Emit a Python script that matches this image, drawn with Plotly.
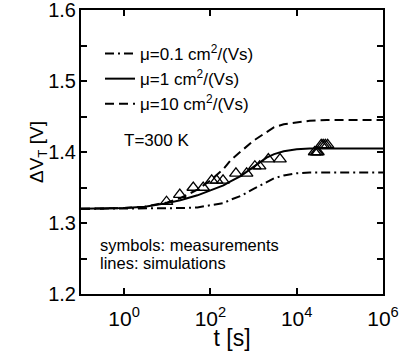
import plotly.graph_objects as go

# simulation time grid [s]
t_sim = [0.1, 0.3, 1, 3, 10, 20, 50, 100, 200, 300, 500, 1000, 2000, 3000, 5000,
         1e4, 2e4, 5e4, 1e5, 1e6]
v_mu01 = [1.320, 1.320, 1.320, 1.320, 1.320, 1.321, 1.322, 1.325, 1.328, 1.333, 1.338,
          1.348, 1.358, 1.363, 1.367, 1.370, 1.371, 1.371, 1.371, 1.371]
v_mu1 = [1.320, 1.320, 1.321, 1.323, 1.328, 1.332, 1.339, 1.346, 1.353, 1.359, 1.366,
         1.379, 1.392, 1.397, 1.401, 1.404, 1.405, 1.405, 1.405, 1.405]
v_mu10 = [1.320, 1.320, 1.321, 1.323, 1.329, 1.335, 1.347, 1.360, 1.376, 1.389, 1.400,
          1.416, 1.428, 1.435, 1.439, 1.442, 1.444, 1.445, 1.445, 1.445]

# measurements
t_meas = [9.6, 19.5, 40, 68, 107, 139, 196, 390, 690, 1070, 1380, 2200, 4100,
          26000, 29000, 31000, 37000, 41000, 46000, 52000]
v_meas = [1.33, 1.34, 1.35, 1.35, 1.36, 1.36, 1.36, 1.37, 1.37, 1.38, 1.38, 1.39, 1.39,
          1.40, 1.40, 1.40, 1.41, 1.41, 1.41, 1.41]

names = ["μ=0.1 cm<sup>2</sup>/(Vs)", "μ=1 cm<sup>2</sup>/(Vs)", "μ=10 cm<sup>2</sup>/(Vs)"]
x_tickvals = [1, 100, 1e4, 1e6]
x_ticktext = ["10<sup>0</sup>", "10<sup>2</sup>", "10<sup>4</sup>", "10<sup>6</sup>"]
y_tickvals = [1.2, 1.3, 1.4, 1.5, 1.6]
y_ticktext = ["1.2", "1.3", "1.4", "1.5", "1.6"]

FONT = "Liberation Sans, Arial, sans-serif"

fig = go.Figure()
fig.add_trace(go.Scatter(x=t_sim, y=v_mu01, mode="lines", name=names[0],
                         line=dict(color="black", width=2, dash="9px,4px,2px,4px")))
fig.add_trace(go.Scatter(x=t_sim, y=v_mu1, mode="lines", name=names[1],
                         line=dict(color="black", width=2)))
fig.add_trace(go.Scatter(x=t_sim, y=v_mu10, mode="lines", name=names[2],
                         line=dict(color="black", width=2, dash="9px,5px")))
fig.add_trace(go.Scatter(x=t_meas, y=v_meas, mode="markers", showlegend=False,
                         marker=dict(symbol="triangle-up-open", size=11, color="black",
                                     line=dict(width=1.3, color="black"))))

axis_common = dict(showline=True, linecolor="black", linewidth=2, mirror="ticks",
                   ticks="inside", ticklen=6, tickwidth=2, tickcolor="black",
                   showgrid=False, zeroline=False, automargin=False)

fig.update_xaxes(type="log", range=[-1, 6], tickvals=x_tickvals, ticktext=x_ticktext,
                 tickfont=dict(family=FONT, size=21, color="black"),
                 title=dict(text="t [s]", font=dict(family=FONT, size=23, color="black"),
                            standoff=0),
                 ticklabelstandoff=5, ticklabeloverflow="allow", **axis_common)
fig.update_yaxes(range=[1.2, 1.6], tickvals=y_tickvals, ticktext=y_ticktext,
                 minor=dict(dtick=0.05, ticks="inside", ticklen=6, tickwidth=2,
                            tickcolor="black", showgrid=False),
                 tickfont=dict(family=FONT, size=20, color="black"),
                 ticklabelstandoff=-1, ticklabeloverflow="allow", **axis_common)

# y-axis title (placed as rotated text to match the reference position)
fig.add_annotation(x=(38 - 81) / 302, y=1 - (152 - 10) / 284, xref="paper", yref="paper",
                   text="ΔV<sub>T</sub> [V]", textangle=-90, showarrow=False,
                   xanchor="center", yanchor="middle",
                   font=dict(family=FONT, size=19, color="black"))

fig.add_annotation(x=(122 - 81) / 302, y=1 - (140 - 10) / 284, xref="paper", yref="paper",
                   text="T=300 K", showarrow=False, xanchor="left", yanchor="middle",
                   font=dict(family=FONT, size=17, color="black"))
fig.add_annotation(x=(98 - 81) / 302, y=1 - (245 - 10) / 284, xref="paper", yref="paper",
                   text="symbols: measurements",
                   showarrow=False, xanchor="left", yanchor="middle", align="left",
                   font=dict(family=FONT, size=16.5, color="black"))
fig.add_annotation(x=(98 - 81) / 302, y=1 - (263 - 10) / 284, xref="paper", yref="paper",
                   text="lines: simulations",
                   showarrow=False, xanchor="left", yanchor="middle", align="left",
                   font=dict(family=FONT, size=16.5, color="black"))

fig.update_layout(
    width=400, height=351,
    margin=dict(l=81, r=17, t=10, b=57, autoexpand=False),
    paper_bgcolor="white", plot_bgcolor="white",
    showlegend=True,
    legend=dict(x=(100 - 81) / 302, y=1 - (36 - 10) / 284, xanchor="left", yanchor="top",
                bgcolor="rgba(0,0,0,0)", font=dict(family=FONT, size=17, color="black"),
                tracegroupgap=0, itemwidth=30),
)

fig.write_html("out.html")
